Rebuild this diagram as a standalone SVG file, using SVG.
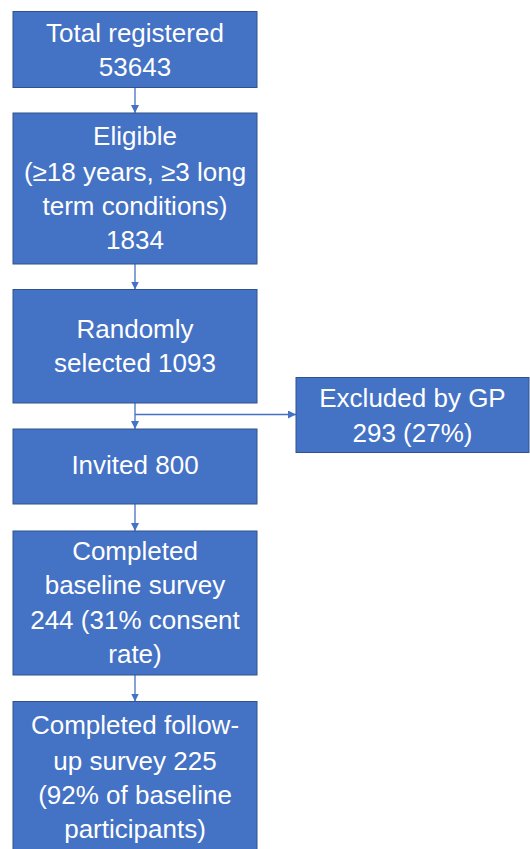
<svg xmlns="http://www.w3.org/2000/svg" width="530" height="849" viewBox="0 0 530 849">
<defs>
<style>
.box{fill:#4472C4;stroke:#2F528F;stroke-width:1}
.t{font-family:"Liberation Sans",Arial,sans-serif;font-size:26px;fill:#FFFFFF;text-anchor:middle}
.c{stroke:#4472C4;stroke-width:1.3;fill:none}
</style>
<marker id="ah" viewBox="0 0 10 10" refX="10" refY="5" markerWidth="8" markerHeight="8" markerUnits="userSpaceOnUse" orient="auto">
<path d="M0,0 L10,5 L0,10 Z" fill="#4472C4"/>
</marker>
</defs>
<rect width="530" height="849" fill="#FFFFFF"/>
<g id="connectors">
<line class="c" x1="135" y1="87" x2="135" y2="113" marker-end="url(#ah)"/>
<line class="c" x1="135" y1="264" x2="135" y2="289.5" marker-end="url(#ah)"/>
<line class="c" x1="135" y1="403" x2="135" y2="429" marker-end="url(#ah)"/>
<line class="c" x1="135" y1="414.5" x2="296" y2="414.5" marker-end="url(#ah)"/>
<line class="c" x1="135" y1="504" x2="135" y2="531" marker-end="url(#ah)"/>
<line class="c" x1="135" y1="675" x2="135" y2="701.5" marker-end="url(#ah)"/>
</g>
<g id="n1">
<rect class="box" x="13" y="11.5" width="244" height="76"/>
<text class="t" x="135" y="42">Total registered</text>
<text class="t" x="135" y="75.5">53643</text>
</g>
<g id="n2">
<rect class="box" x="13" y="113" width="244" height="151"/>
<text class="t" x="135" y="145">Eligible</text>
<text class="t" x="135" y="181">(≥18 years, ≥3 long</text>
<text class="t" x="135" y="215">term conditions)</text>
<text class="t" x="135" y="249">1834</text>
</g>
<g id="n3">
<rect class="box" x="13" y="289.5" width="244" height="113.5"/>
<text class="t" x="135" y="337.5">Randomly</text>
<text class="t" x="135" y="371.5">selected 1093</text>
</g>
<g id="n4">
<rect class="box" x="13" y="429" width="244" height="75"/>
<text class="t" x="135" y="473.5">Invited 800</text>
</g>
<g id="n5">
<rect class="box" x="13" y="531" width="244" height="144"/>
<text class="t" x="135" y="560">Completed</text>
<text class="t" x="135" y="594">baseline survey</text>
<text class="t" x="135" y="628.5">244 (31% consent</text>
<text class="t" x="135" y="663">rate)</text>
</g>
<g id="n6">
<rect class="box" x="13" y="701.5" width="244" height="160"/>
<text class="t" x="135" y="734">Completed follow-</text>
<text class="t" x="135" y="770">up survey 225</text>
<text class="t" x="135" y="804">(92% of baseline</text>
<text class="t" x="135" y="837.5">participants)</text>
</g>
<g id="n7">
<rect class="box" x="296" y="377.5" width="233" height="75"/>
<text class="t" x="412.5" y="406.5">Excluded by GP</text>
<text class="t" x="412.5" y="442">293 (27%)</text>
</g>
</svg>
